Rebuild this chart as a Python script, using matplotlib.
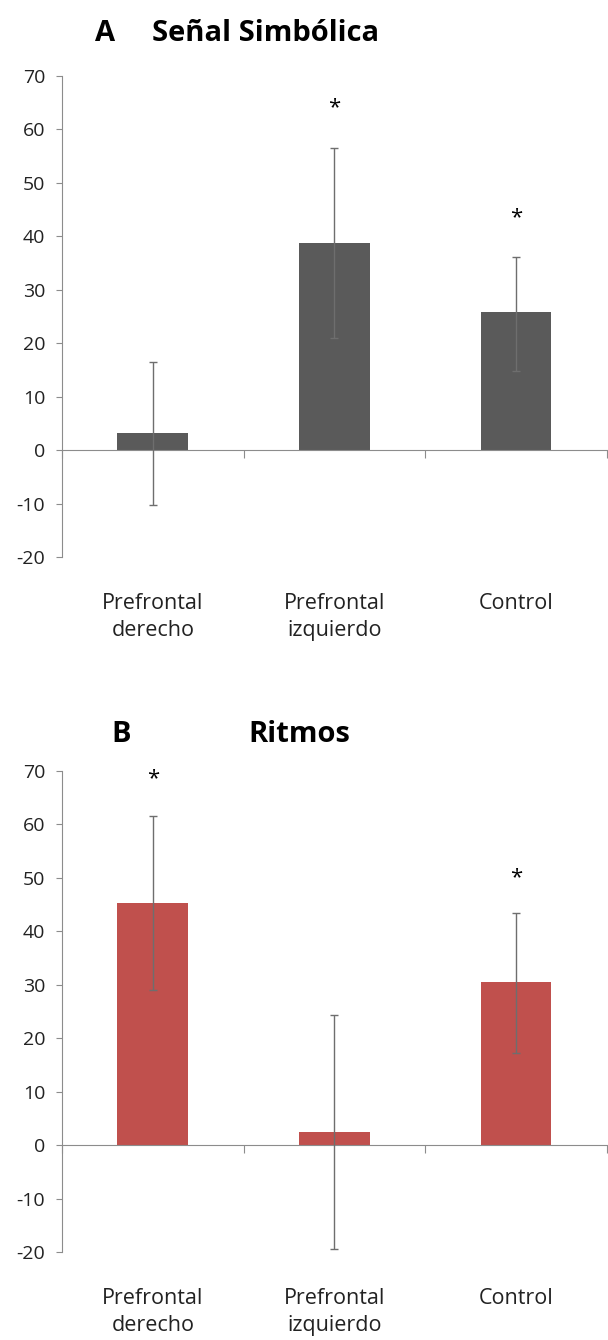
import numpy as np
import matplotlib
matplotlib.use("Agg")
import matplotlib.pyplot as plt

plt.rcParams['font.family'] = ['Open Sans', 'DejaVu Sans']
plt.rcParams['axes.unicode_minus'] = False

categories = ["Prefrontal\nderecho", "Prefrontal\nizquierdo", "Control"]

# panel A - Señal Simbólica
a_values = [3.2, 38.8, 25.8]
a_low = [-10.2, 21.0, 14.8]
a_high = [16.5, 56.5, 36.2]
a_stars = [None, 64.0, 43.5]

# panel B - Ritmos
b_values = [45.2, 2.5, 30.5]
b_low = [29.0, -19.5, 17.3]
b_high = [61.5, 24.3, 43.5]
b_stars = [68.5, None, 50.0]

yticks = [-20, -10, 0, 10, 20, 30, 40, 50, 60, 70]
axis_grey = "#8c8c8c"


def draw_panel(ax, values, low, high, stars, color):
    x = np.arange(len(values))
    vals = np.array(values)
    err = [vals - np.array(low), np.array(high) - vals]
    ax.bar(x, vals, width=0.39, color=color, zorder=2)
    ax.errorbar(x, vals, yerr=err, fmt="none", ecolor="#6e6e6e",
                elinewidth=1.0, capsize=3, capthick=1.0, zorder=3)
    for i, s in enumerate(stars):
        if s is not None:
            ax.text(i, s, "*", ha="center", va="center", fontsize=16)
    ax.set_xlim(-0.5, 2.5)
    ax.set_ylim(-20, 70)
    ax.set_yticks(yticks)
    ax.tick_params(axis="y", direction="out", length=4, color=axis_grey,
                   labelsize=14, pad=8, labelcolor="#222222")
    ax.set_xticks([-0.5, 0.5, 1.5, 2.5])
    ax.set_xticklabels([])
    ax.tick_params(axis="x", direction="out", length=6, color=axis_grey)
    ax.spines["top"].set_visible(False)
    ax.spines["right"].set_visible(False)
    ax.spines["left"].set_color(axis_grey)
    ax.spines["bottom"].set_color(axis_grey)
    ax.spines["bottom"].set_position(("data", 0))
    for i, c in enumerate(categories):
        ax.text(i, -0.075, c, ha="center", va="top", fontsize=15.5,
                transform=ax.get_xaxis_transform(), linespacing=1.35,
                color="#222222")


fig = plt.figure(figsize=(6.08, 13.4), dpi=100)

ax1 = fig.add_axes([0.102, 0.5843, 0.896, 0.359])
draw_panel(ax1, a_values, a_low, a_high, a_stars, "#5a5a5a")
fig.text(0.157, 0.975, "A", fontsize=21, fontweight="bold", ha="left", va="center")
fig.text(0.25, 0.975, "Señal Simbólica", fontsize=21, fontweight="bold",
         ha="left", va="center")

ax2 = fig.add_axes([0.102, 0.0657, 0.896, 0.359])
draw_panel(ax2, b_values, b_low, b_high, b_stars, "#c0504d")
fig.text(0.184, 0.4515, "B", fontsize=21, fontweight="bold", ha="left", va="center")
fig.text(0.408, 0.4515, "Ritmos", fontsize=21, fontweight="bold",
         ha="left", va="center")

fig.savefig("out.png", dpi=100, facecolor="white")
